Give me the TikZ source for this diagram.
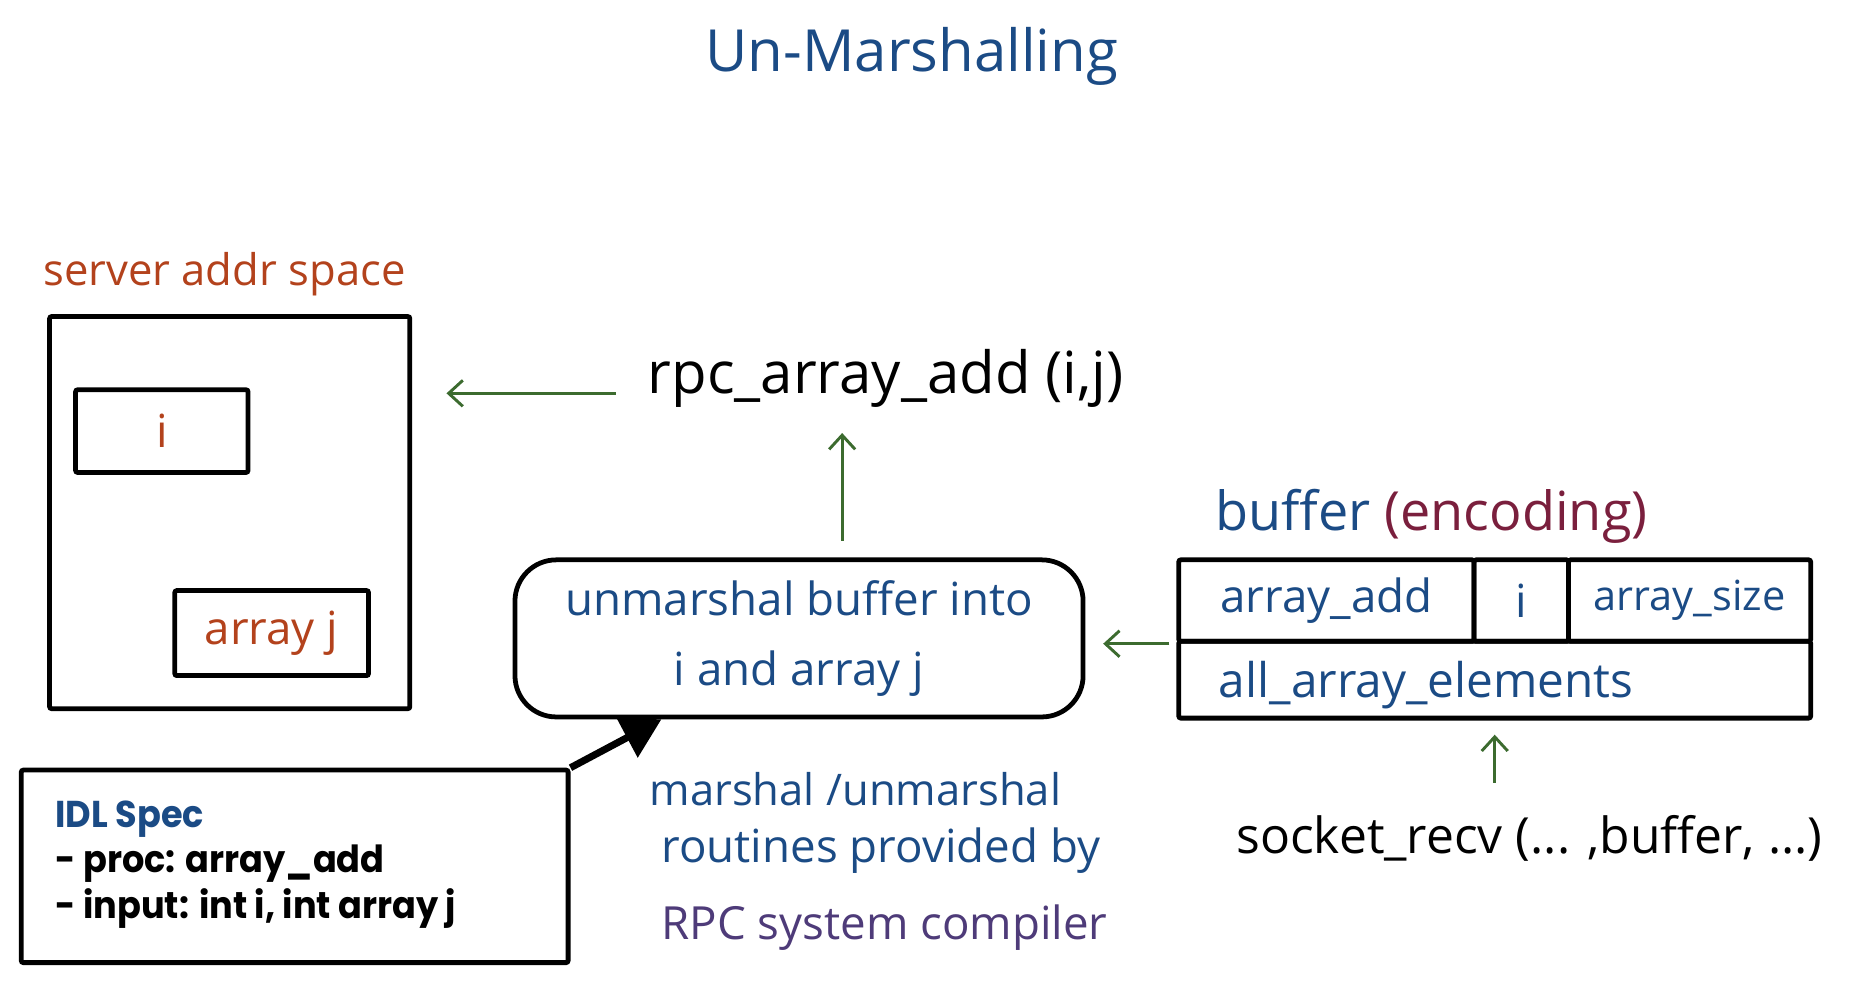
\documentclass[tikz,border=0pt]{standalone}
\usepackage{fontspec}
\setmainfont{Open Sans}
\newfontfamily\idlfont[FakeStretch=0.94]{Poppins}
\usepackage{tikz}
\usetikzlibrary{arrows.meta, calc}

\definecolor{inkblue}{HTML}{1B4B85}
\definecolor{inkred}{HTML}{B3421C}
\definecolor{inkmaroon}{HTML}{7A1F3D}
\definecolor{inkgreen}{HTML}{3C6B2F}
\definecolor{inkpurple}{HTML}{4E3B79}

\begin{document}
\begin{tikzpicture}[x=0.2mm, y=-0.2mm, line width=2.3pt,
    box/.style={draw, rectangle, rounded corners=1pt, inner sep=0pt},
    hand/.style={inner sep=0pt, font=\fontsize{#1}{#1}\selectfont},
    hand/.default=22,
    flow/.style={draw=inkgreen, line width=1.4pt, -{Straight Barb[length=2.4mm, width=4.4mm]}},
    callout/.style={line width=3.4pt, -{Triangle[length=6.6mm, width=7.4mm]}}]
    \useasboundingbox (0, 0) rectangle (1568, 850);

    % draw title
    \node[hand=28, text=inkblue] (title) at (772, 48) {Un-Marshalling};

    % draw server address space
    \node[hand=21, text=inkred] (lblserver) at (190, 232) {server addr space};
    \node[box, minimum width=61mm, minimum height=66.4mm] (server) at (194.5, 434) {};
    \node[box, minimum width=29.2mm, minimum height=14mm, hand=22, text=inkred] (boxi) at (137, 365) {i};
    \node[box, minimum width=32.8mm, minimum height=14.4mm, hand=22, text=inkred] (boxj) at (230, 536) {array j};

    % draw call and unmarshal box
    \node[hand=28] (call) at (750, 320) {rpc\_array\_add (i,j)};
    \node[box, rounded corners=7mm, minimum width=96.2mm, minimum height=26.6mm, align=center,
          text=inkblue, font=\fontsize{22}{34}\selectfont] (unm) at (676.5, 540.5)
          {unmarshal buffer into\\i and array j};

    % draw buffer cells
    \node[hand=26, anchor=west] (bufhead) at (1027, 437) {\color{inkblue}buffer \color{inkmaroon}(encoding)};
    \node[box, minimum width=50mm, minimum height=13.8mm, hand=22, text=inkblue] (cadd) at (1123, 508.5) {array\_add};
    \node[box, minimum width=16mm, minimum height=13.8mm, hand=22, text=inkblue] (ci) at (1288, 508.5) {i};
    \node[box, minimum width=41mm, minimum height=13.8mm, hand=20, text=inkblue] (csize) at (1430.5, 508.5) {array\_size};
    \node[box, minimum width=107mm, minimum height=13mm] (celems) at (1265.5, 575.5) {};
    \node[hand=23, text=inkblue, anchor=west] (elems) at (1030, 580) {all\_array\_elements};
    \node[hand=24] (sock) at (1295, 710) {socket\_recv (... ,buffer, ...)};

    % draw IDL spec
    \node[box, minimum width=92.6mm, minimum height=32.6mm] (idl) at (249.5, 733.5) {};
    \node[anchor=west, align=left, inner sep=0pt, font=\idlfont\bfseries\fontsize{18}{22}\selectfont] (idltext) at (45, 732)
          {\textcolor{inkblue}{IDL Spec}\\- proc: array\_add\\- input: int i, int array j};

    % draw notes
    \node[hand=21, text=inkblue, anchor=west] (note1) at (548, 668) {marshal /unmarshal};
    \node[hand=22, text=inkblue, anchor=west] (note2) at (558, 720) {routines provided by};
    \node[hand=22, text=inkpurple, anchor=west] (note3) at (558, 785) {RPC system compiler};

    % draw arrows
    \draw[flow, shorten <=5mm, shorten >=5.8mm] ($(call.west)+(0, 13)$) -- (server.east |- {$(call.west)+(0, 13)$});
    \draw[flow, shorten <=2.8mm] ($(unm.north)+(36.5, 0)$) coordinate (up) -- ($(up |- call.south)+(0, 20)$);
    \draw[flow, shorten <=1.2mm, shorten >=3mm] (cadd.south west) -- (unm.east |- cadd.south west);
    \draw[flow, shorten >=2.4mm] ($(sock.north -| celems.south)+(0, -26)$) -- (celems.south);
    \draw[callout] (idl.north east) -- ($(unm.south west)+(126, 0)$);

\end{tikzpicture}
\end{document}
